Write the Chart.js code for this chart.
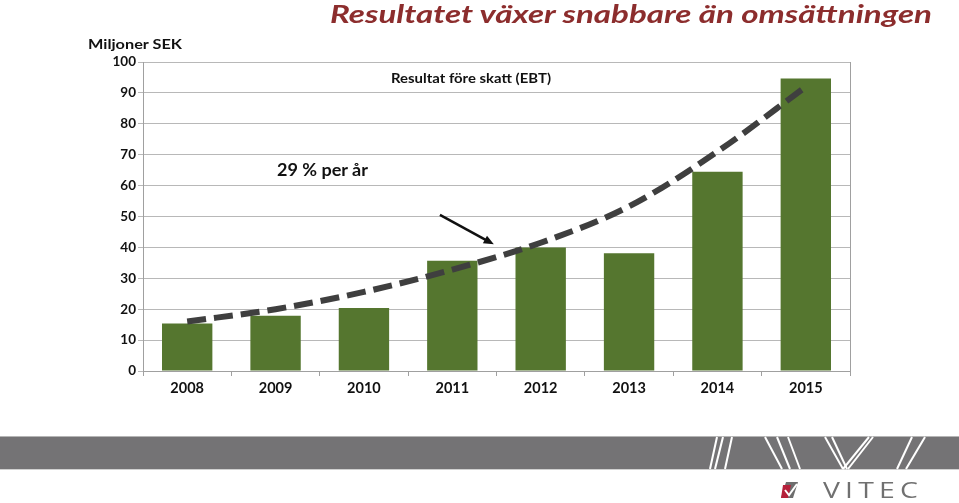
<!DOCTYPE html>
<html>
<head>
<meta charset="utf-8">
<script src="https://cdn.jsdelivr.net/npm/chart.js@4/dist/chart.umd.min.js"></script>
<style>
  html, body { margin: 0; padding: 0; background: #ffffff; }
  #wrap { position: relative; width: 959px; height: 503px; overflow: hidden; background: #fff; font-family: Lato, "Open Sans", sans-serif; }
  #c { position: absolute; left: 0; top: 0; }
  .txt { position: absolute; white-space: nowrap; line-height: 1; transform-origin: 0 0; }
  #title { left: 330px; top: 1px; font-size: 25px; font-weight: 700; font-style: italic; color: #8C2D2D; }
  #ylab { left: 88px; top: 38px; font-size: 13.5px; font-weight: 700; color: #111; }
  #ebt { left: 391px; top: 71px; font-size: 14px; font-weight: 700; color: #111; }
  #rate { left: 277px; top: 162px; font-size: 16.5px; font-weight: 700; color: #111; }
  #band { position: absolute; left: 0; top: 436px; width: 959px; height: 34px; background: #747375; border-top: 1px solid #b5b5b5; border-bottom: 1px solid #d0d0d0; box-sizing: border-box; }
  #deco { position: absolute; left: 0; top: 0; }
  #vitec { left: 823px; top: 478px; font-family: "Open Sans", sans-serif; font-weight: 400; font-size: 22px; color: #707070; letter-spacing: 4px; }
</style>
</head>
<body>
<div id="wrap">
  <canvas id="c" width="959" height="503"></canvas>
  <div id="band"></div>
  <svg id="deco" width="959" height="503">
    <g stroke="#ffffff" stroke-width="2" fill="none">
      <line x1="710" y1="469" x2="717" y2="437"/>
      <line x1="715" y1="469" x2="723" y2="437"/>
      <line x1="725" y1="469" x2="732" y2="437"/>
      <line x1="765" y1="437" x2="782" y2="469"/>
      <line x1="777" y1="437" x2="790" y2="469"/>
      <line x1="788" y1="437" x2="800" y2="469"/>
      <line x1="825" y1="437" x2="843" y2="469"/>
      <line x1="832" y1="437" x2="847" y2="469"/>
      <line x1="843" y1="469" x2="869" y2="437"/>
      <line x1="848" y1="469" x2="873" y2="437"/>
      <line x1="897" y1="469" x2="912" y2="437"/>
      <line x1="906" y1="469" x2="925" y2="437"/>
    </g>
    <polygon points="786,482 798,482 793,498 781,498" fill="#6d6d6d"/>
    <polygon points="783,485 791,485 788,498 781,498" fill="#b5203a"/>
    <polyline points="785,490 789,495 797,484" stroke="#ffffff" stroke-width="2" fill="none"/>
  </svg>
  <div class="txt" id="title">Resultatet växer snabbare än omsättningen</div>
  <div class="txt" id="ylab">Miljoner SEK</div>
  <div class="txt" id="ebt">Resultat före skatt (EBT)</div>
  <div class="txt" id="rate">29 % per år</div>
  <div class="txt" id="vitec">VITEC</div>
</div>
<script>
// ---- data ----
const years = ['2008', '2009', '2010', '2011', '2012', '2013', '2014', '2015'];
const ebtValues = [15.4, 17.9, 20.4, 35.7, 40.0, 38.1, 64.5, 94.7];
const trendValues = [16.0, 20.0, 25.6, 32.8, 41.5, 53.3, 71.0, 92.0];
const yTicks = [0, 10, 20, 30, 40, 50, 60, 70, 80, 90, 100];
// arrow annotation in data coordinates (category index, value)
const arrowFrom = { x: 2.86, y: 50.5 };
const arrowTo = { x: 3.47, y: 41.0 };

// fit text widths to the reference
function fit(id, w) {
  const el = document.getElementById(id);
  const cur = el.getBoundingClientRect().width;
  if (cur > 0) el.style.transform = 'scaleX(' + (w / cur) + ')';
}
fit('title', 602);
fit('ylab', 94);
fit('ebt', 160);
fit('rate', 91);
fit('vitec', 100);

const framePlugin = {
  id: 'frame',
  beforeDatasetsDraw(chart) {
    const { ctx, chartArea } = chart;
    ctx.save();
    ctx.strokeStyle = '#a0a0a0';
    ctx.lineWidth = 1;
    ctx.beginPath();
    ctx.moveTo(Math.round(chartArea.right) + 0.5, chartArea.top);
    ctx.lineTo(Math.round(chartArea.right) + 0.5, chartArea.bottom);
    ctx.stroke();
    ctx.restore();
  },
  afterDatasetsDraw(chart) {
    const { ctx, scales } = chart;
    const x1 = scales.x.getPixelForValue(arrowFrom.x), y1 = scales.y.getPixelForValue(arrowFrom.y);
    const x2 = scales.x.getPixelForValue(arrowTo.x), y2 = scales.y.getPixelForValue(arrowTo.y);
    const ang = Math.atan2(y2 - y1, x2 - x1);
    const head = 11;
    ctx.save();
    ctx.strokeStyle = '#111';
    ctx.fillStyle = '#111';
    ctx.lineWidth = 2.5;
    ctx.beginPath();
    ctx.moveTo(x1, y1);
    ctx.lineTo(x2 - Math.cos(ang) * head * 0.8, y2 - Math.sin(ang) * head * 0.8);
    ctx.stroke();
    ctx.beginPath();
    ctx.moveTo(x2, y2);
    ctx.lineTo(x2 - head * Math.cos(ang - 0.4), y2 - head * Math.sin(ang - 0.4));
    ctx.lineTo(x2 - head * Math.cos(ang + 0.4), y2 - head * Math.sin(ang + 0.4));
    ctx.closePath();
    ctx.fill();
    ctx.restore();
  }
};

new Chart(document.getElementById('c'), {
  data: {
    labels: years,
    datasets: [
      {
        type: 'line',
        label: 'Trend',
        data: trendValues,
        borderColor: '#3f3f3f',
        borderWidth: 6,
        borderDash: [19, 8],
        borderCapStyle: 'butt',
        pointRadius: 0,
        cubicInterpolationMode: 'monotone',
        fill: false,
        order: 0
      },
      {
        type: 'bar',
        label: 'Resultat före skatt (EBT)',
        data: ebtValues,
        backgroundColor: '#55762F',
        borderWidth: 0,
        categoryPercentage: 1,
        barPercentage: 0.57,
        order: 1
      }
    ]
  },
  options: {
    responsive: false,
    animation: false,
    layout: { padding: { top: 62, right: 109, bottom: 102, left: 0 } },
    plugins: { legend: { display: false }, tooltip: { enabled: false }, title: { display: false } },
    scales: {
      x: {
        grid: { offset: true, drawOnChartArea: false, drawTicks: true, tickLength: 5, color: '#a0a0a0' },
        border: { color: '#a0a0a0', width: 1 },
        ticks: { color: '#111', padding: 4, font: { family: 'Lato', size: 14.5, weight: 'bold' }, maxRotation: 0 },
        afterFit(s) { s.height = 30; }
      },
      y: {
        min: 0, max: 100,
        afterBuildTicks(s) { s.ticks = yTicks.map(v => ({ value: v })); },
        grid: { color: '#b8b8b8', lineWidth: 1, drawTicks: true, tickLength: 5 },
        border: { color: '#a0a0a0', width: 1 },
        ticks: { color: '#111', padding: 2, font: { family: 'Lato', size: 13.5, weight: 'bold' } },
        afterFit(s) { s.width = 143; }
      }
    }
  },
  plugins: [framePlugin]
});
</script>
</body>
</html>
